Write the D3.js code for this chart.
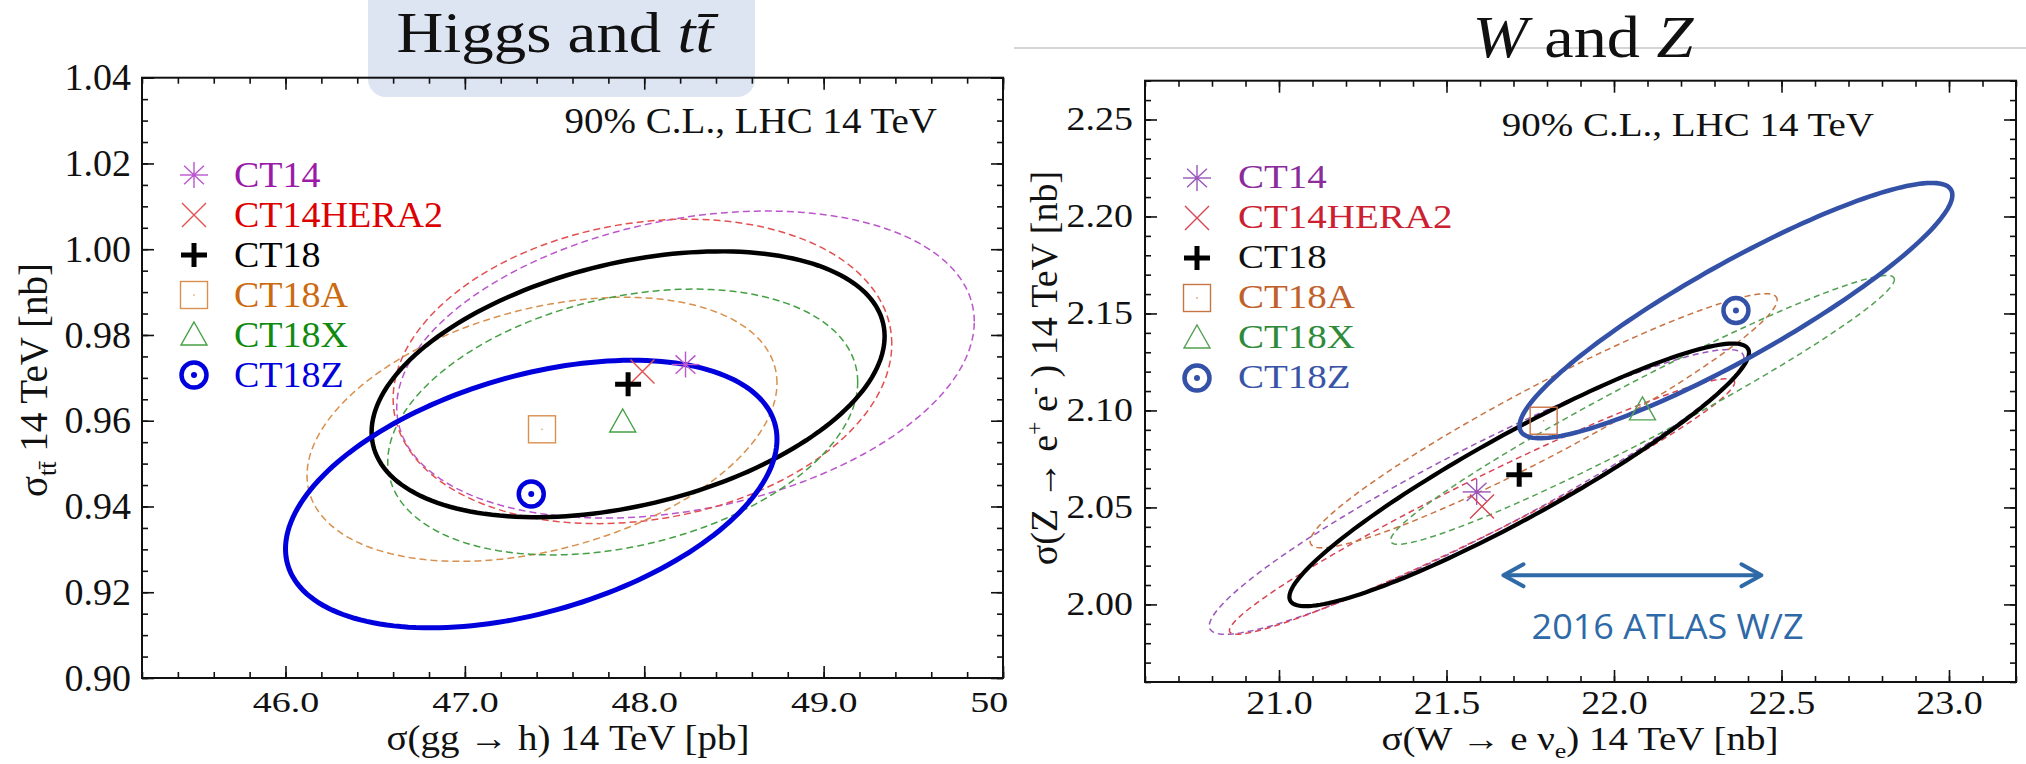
<!DOCTYPE html>
<html>
<head>
<meta charset="utf-8">
<script src="https://cdn.jsdelivr.net/npm/d3@7"></script>
<style>
  body { margin: 0; background: #fff; }
  text { font-family: "Liberation Serif", "Times New Roman", serif; }
</style>
</head>
<body>
<script>
var width = 2026,
    height = 764;

// PDF sets, same order in both panels
const pdfSets = ["CT14", "CT14HERA2", "CT18", "CT18A", "CT18X", "CT18Z"];
const markerShapes = ["asterisk", "cross", "plus", "square", "triangle", "odot"];
const solidSets = ["CT18", "CT18Z"];

// Higgs and ttbar: 90% C.L. ellipse = centre, half extent in x and y, correlation
const ggHCenter = [48.23, 47.99, 47.91, 47.43, 47.88, 47.37];
const ttCenter  = [0.9731, 0.9715, 0.9685, 0.9580, 0.9597, 0.9429];
const ggHHalf   = [1.61, 1.39, 1.43, 1.31, 1.31, 1.37];
const ttHalf    = [0.0358, 0.0355, 0.0310, 0.0308, 0.0310, 0.0312];
const ggHttRho  = [0.28, 0.18, 0.36, 0.35, 0.30, 0.41];
const ggHTicks  = [46, 47, 48, 49, 50];
const ttTicks   = [0.90, 0.92, 0.94, 0.96, 0.98, 1.00, 1.02, 1.04];

// W and Z
const wCenter = [21.590, 21.606, 21.717, 21.790, 22.085, 22.364];
const zCenter = [2.0580, 2.0505, 2.0668, 2.0947, 2.1003, 2.1515];
const wHalf   = [0.798, 0.754, 0.686, 0.697, 0.752, 0.646];
const zHalf   = [0.0734, 0.0659, 0.0677, 0.0655, 0.0693, 0.0658];
const wzRho   = [0.94, 0.97, 0.93, 0.95, 0.97, 0.905];
const wTicks  = [21.0, 21.5, 22.0, 22.5, 23.0];
const zTicks  = [2.00, 2.05, 2.10, 2.15, 2.20, 2.25];

// ATLAS 2016 W/Z band (arrow) and where its label sits
const atlasWRange = [21.67, 22.44];
const atlasArrowZ = 2.015;
const atlasLabel = [22.16, 1.982];

var svg = d3.select("body").append("svg")
    .attr("width", width)
    .attr("height", height)
    .style("display", "block");

svg.append("rect").attr("width", width).attr("height", height).attr("fill", "#fff");

svg.append("defs").append("clipPath").attr("id", "clipLeft")
  .append("rect").attr("x", 0).attr("y", 0).attr("width", 1009).attr("height", height);

// slide decorations behind the plots
svg.append("rect")
    .attr("x", 368).attr("y", -20).attr("width", 387).attr("height", 117).attr("rx", 18)
    .attr("fill", "#dde5f3");
svg.append("line")
    .attr("x1", 1014).attr("x2", width).attr("y1", 48).attr("y2", 48)
    .attr("stroke", "#c8c8c8").attr("stroke-width", 1.5);

// scale text vertically about its own anchor point
function squash(sel, s) {
  sel.each(function() {
    var t = d3.select(this);
    var x = +t.attr("x") || 0, y = +t.attr("y") || 0;
    t.attr("transform", "translate(" + x + "," + y + ") scale(1," + s + ") translate(" + (-x) + "," + (-y) + ")");
  });
}

function ellipsePts(cx, cy, hx, hy, rho) {
  var c = Math.sqrt(1 - rho * rho);
  return d3.range(0, 360, 2).map(function(a) {
    var t = a * Math.PI / 180;
    return [cx + hx * Math.cos(t), cy + hy * (rho * Math.cos(t) + c * Math.sin(t))];
  });
}

function drawMarker(g, shape, cx, cy, color) {
  var m = g.append("g")
      .attr("transform", "translate(" + cx + "," + cy + ")")
      .attr("stroke", color).attr("fill", "none");
  if (shape === "asterisk") {
    [0, 45, 90, 135].forEach(function(a) {
      var t = a * Math.PI / 180;
      m.append("line")
        .attr("x1", -14 * Math.cos(t)).attr("y1", -13 * Math.sin(t))
        .attr("x2", 14 * Math.cos(t)).attr("y2", 13 * Math.sin(t))
        .attr("stroke-width", 1.4);
    });
    m.append("circle").attr("r", 1.8).attr("fill", color).attr("stroke", "none");
  } else if (shape === "cross") {
    m.append("path").attr("d", "M-12,-12L12,12M-12,12L12,-12").attr("stroke-width", 1.4);
  } else if (shape === "plus") {
    m.append("path").attr("d", "M-13,0H13M0,-12V12").attr("stroke-width", 5);
  } else if (shape === "square") {
    m.append("rect").attr("x", -13.5).attr("y", -13.5).attr("width", 27).attr("height", 27).attr("stroke-width", 1.4);
    m.append("circle").attr("r", 0.8).attr("fill", color).attr("stroke", "none");
  } else if (shape === "triangle") {
    m.append("path").attr("d", "M0,-13L13,10L-13,10Z").attr("stroke-width", 1.4);
  } else if (shape === "odot") {
    m.append("circle").attr("r", 12.5).attr("stroke-width", 4.5);
    m.append("circle").attr("r", 3).attr("fill", color).attr("stroke", "none");
  }
}

function drawPanel(p) {
  var g = svg.append("g");
  if (p.clip) g.attr("clip-path", "url(#" + p.clip + ")");

  var x = d3.scaleLinear().domain(p.xDomain).range([p.box[0], p.box[2]]);
  var y = d3.scaleLinear().domain(p.yDomain).range([p.box[3], p.box[1]]);

  var line = d3.line()
      .x(function(d) { return x(d[0]); })
      .y(function(d) { return y(d[1]); })
      .curve(d3.curveLinearClosed);

  // dashed contours first, the thick solid ones on top
  var order = d3.range(pdfSets.length).sort(function(a, b) {
    return solidSets.includes(pdfSets[a]) - solidSets.includes(pdfSets[b]) || a - b;
  });
  order.forEach(function(i) {
    var solid = solidSets.includes(pdfSets[i]);
    g.append("path")
      .attr("d", line(ellipsePts(p.cx[i], p.cy[i], p.hx[i], p.hy[i], p.rho[i])))
      .attr("fill", "none")
      .attr("stroke", p.lineColors[i])
      .attr("stroke-width", solid ? p.solidWidth[i] : 1.5)
      .attr("stroke-dasharray", solid ? null : p.dash);
  });

  pdfSets.forEach(function(s, i) {
    drawMarker(g, markerShapes[i], x(p.cx[i]), y(p.cy[i]), p.lineColors[i]);
  });

  // axes: ticks point inward, mirrored on top and right
  var x0 = p.box[0], y0 = p.box[1], x1 = p.box[2], y1 = p.box[3];
  function clean(sel) {
    sel.attr("font-family", null).attr("font-size", null);
    sel.select(".domain").remove();
    sel.selectAll("line").attr("stroke", "#111").attr("stroke-width", 1.6);
  }
  var bottom = g.append("g").attr("transform", "translate(0," + y1 + ")")
      .call(d3.axisBottom(x).tickValues(p.xMajor).tickSize(-12).tickSizeOuter(0).tickFormat(p.xFmt));
  clean(bottom);
  bottom.selectAll("text")
      .attr("y", null).attr("dy", null)
      .attr("font-size", 38).attr("fill", "#111")
      .attr("transform", "translate(0," + p.xLabelBase + ") scale(1," + p.xLabelScale + ")");
  g.append("g").attr("transform", "translate(0," + y1 + ")")
      .call(d3.axisBottom(x).tickValues(p.xMinor).tickSize(-6).tickSizeOuter(0).tickFormat(""))
      .call(clean);
  g.append("g").attr("transform", "translate(0," + y0 + ")")
      .call(d3.axisTop(x).tickValues(p.xMajor).tickSize(-12).tickSizeOuter(0).tickFormat(""))
      .call(clean);
  g.append("g").attr("transform", "translate(0," + y0 + ")")
      .call(d3.axisTop(x).tickValues(p.xMinor).tickSize(-6).tickSizeOuter(0).tickFormat(""))
      .call(clean);

  var leftAx = g.append("g").attr("transform", "translate(" + x0 + ",0)")
      .call(d3.axisLeft(y).tickValues(p.yMajor).tickSize(-12).tickSizeOuter(0).tickPadding(p.yPad).tickFormat(p.yFmt));
  clean(leftAx);
  leftAx.selectAll("text")
      .attr("font-size", 38).attr("fill", "#111")
      .attr("transform", "scale(1," + p.yLabelScale + ")");
  g.append("g").attr("transform", "translate(" + x0 + ",0)")
      .call(d3.axisLeft(y).tickValues(p.yMinor).tickSize(-6).tickSizeOuter(0).tickFormat(""))
      .call(clean);
  g.append("g").attr("transform", "translate(" + x1 + ",0)")
      .call(d3.axisRight(y).tickValues(p.yMajor).tickSize(-12).tickSizeOuter(0).tickFormat(""))
      .call(clean);
  g.append("g").attr("transform", "translate(" + x1 + ",0)")
      .call(d3.axisRight(y).tickValues(p.yMinor).tickSize(-6).tickSizeOuter(0).tickFormat(""))
      .call(clean);

  g.append("rect")
      .attr("x", x0).attr("y", y0).attr("width", x1 - x0).attr("height", y1 - y0)
      .attr("fill", "none").attr("stroke", "#111").attr("stroke-width", 2);

  // legend
  var lg = p.legend;
  pdfSets.forEach(function(s, i) {
    var ry = lg.y + i * lg.dy;
    drawMarker(g, markerShapes[i], lg.x, ry, p.lineColors[i]);
    g.append("text")
      .attr("x", lg.tx).attr("y", ry + lg.base)
      .attr("font-size", lg.size).attr("fill", p.textColors[i])
      .text(s)
      .call(squash, lg.scale);
  });

  g.append("text")
      .attr("x", p.cl[0]).attr("y", p.cl[1])
      .attr("text-anchor", "end").attr("font-size", 39).attr("fill", "#111")
      .text("90% C.L., LHC 14 TeV")
      .call(squash, p.cl[2]);

  return { g: g, x: x, y: y };
}

var left = drawPanel({
  clip: "clipLeft",
  box: [142, 77.7, 1003, 678],
  xDomain: [45.2, 50], yDomain: [0.90, 1.04],
  xMajor: ggHTicks, xMinor: d3.range(45.2, 50.001, 0.2),
  yMajor: ttTicks, yMinor: d3.range(0.90, 1.0401, 0.005),
  xFmt: d3.format(".1f"), yFmt: d3.format(".2f"),
  xLabelBase: 34, xLabelScale: 0.75, yPad: 11, yLabelScale: 1,
  cx: ggHCenter, cy: ttCenter, hx: ggHHalf, hy: ttHalf, rho: ggHttRho,
  lineColors: ["#bb55cc", "#e25050", "#000000", "#d8904e", "#44a044", "#0000dd"],
  textColors: ["#9b1aa8", "#dd0000", "#000000", "#cc6a10", "#108a10", "#0000dd"],
  solidWidth: [0, 0, 4.5, 0, 0, 5],
  dash: "7,4",
  legend: { x: 194, tx: 234, y: 175, dy: 40, base: 12, size: 38, scale: 0.95 },
  cl: [937, 133, 0.9]
});

var right = drawPanel({
  box: [1145, 80.7, 2016, 682],
  xDomain: [20.6, 23.2], yDomain: [1.96, 2.27],
  xMajor: wTicks, xMinor: d3.range(20.6, 23.2001, 0.1),
  yMajor: zTicks, yMinor: d3.range(1.96, 2.2701, 0.01),
  xFmt: d3.format(".1f"), yFmt: d3.format(".2f"),
  xLabelBase: 32, xLabelScale: 0.86, yPad: 12, yLabelScale: 0.86,
  cx: wCenter, cy: zCenter, hx: wHalf, hy: zHalf, rho: wzRho,
  lineColors: ["#9a55b8", "#d84452", "#000000", "#c87444", "#52a052", "#3451a8"],
  textColors: ["#8a2c9c", "#cc2030", "#111111", "#c0602a", "#2f8a3a", "#3a55a8"],
  solidWidth: [0, 0, 4.2, 0, 0, 4.6],
  dash: "6,4",
  legend: { x: 1197, tx: 1238, y: 178, dy: 40, base: 10, size: 39, scale: 0.84 },
  cl: [1874, 136, 0.84]
});

// ATLAS W/Z band arrow
(function() {
  var x = right.x, y = right.y, g = right.g;
  var xa = x(atlasWRange[0]), xb = x(atlasWRange[1]), ya = y(atlasArrowZ);
  var arrow = g.append("g").attr("stroke", "#2e69a8").attr("stroke-width", 4).attr("fill", "none")
      .attr("stroke-linecap", "round").attr("stroke-linejoin", "round");
  arrow.append("line").attr("x1", xa + 2).attr("x2", xb - 2).attr("y1", ya).attr("y2", ya);
  arrow.append("path").attr("d", "M" + (xa + 20) + "," + (ya - 11) + "L" + xa + "," + ya + "L" + (xa + 20) + "," + (ya + 11));
  arrow.append("path").attr("d", "M" + (xb - 20) + "," + (ya - 11) + "L" + xb + "," + ya + "L" + (xb - 20) + "," + (ya + 11));
  g.append("text")
      .attr("x", x(atlasLabel[0])).attr("y", y(atlasLabel[1]))
      .attr("text-anchor", "middle")
      .style("font-family", "'Open Sans', 'Noto Sans', sans-serif")
      .attr("font-size", 35)
      .attr("textLength", 272).attr("lengthAdjust", "spacingAndGlyphs")
      .attr("fill", "#2e69a8")
      .text("2016 ATLAS W/Z");
})();

// axis titles
var t;
t = left.g.append("text").attr("x", 568).attr("y", 750).attr("text-anchor", "middle")
    .attr("font-size", 39).attr("fill", "#111");
t.text("σ(gg → h) 14 TeV [pb]");
squash(t, 0.9);

t = left.g.append("text").attr("transform", "translate(47,380) rotate(-90)")
    .attr("text-anchor", "middle").attr("font-size", 39).attr("fill", "#111");
t.append("tspan").text("σ");
t.append("tspan").attr("font-size", 26).attr("dy", 9).text("tt\u0304");
t.append("tspan").attr("dy", -9).text(" 14 TeV [nb]");

t = right.g.append("text").attr("x", 1580).attr("y", 750).attr("text-anchor", "middle")
    .attr("font-size", 39).attr("fill", "#111");
t.append("tspan").text("σ(W → e ν");
t.append("tspan").attr("font-size", 26).attr("dy", 9).text("e");
t.append("tspan").attr("dy", -9).text(") 14 TeV [nb]");
squash(t, 0.84);

t = right.g.append("text").attr("transform", "translate(1057,368) rotate(-90)")
    .attr("text-anchor", "middle").attr("font-size", 38).attr("fill", "#111");
t.append("tspan").text("σ(Z → e");
t.append("tspan").attr("font-size", 24).attr("dy", -15).text("+");
t.append("tspan").attr("dy", 15).text(" e");
t.append("tspan").attr("font-size", 24).attr("dy", -15).text("-");
t.append("tspan").attr("dy", 15).text(" ) 14 TeV [nb]");

// slide titles
t = svg.append("text").attr("x", 555).attr("y", 52).attr("text-anchor", "middle")
    .attr("font-size", 58).attr("fill", "#111")
    .attr("textLength", 317).attr("lengthAdjust", "spacingAndGlyphs");
t.append("tspan").text("Higgs and ");
t.append("tspan").attr("font-style", "italic").text("tt\u0304");

t = svg.append("text").attr("x", 1583).attr("y", 57).attr("text-anchor", "middle")
    .attr("font-size", 60).attr("fill", "#111")
    .attr("textLength", 221).attr("lengthAdjust", "spacingAndGlyphs");
t.append("tspan").attr("font-style", "italic").text("W");
t.append("tspan").text(" and ");
t.append("tspan").attr("font-style", "italic").text("Z");
</script>
</body>
</html>
